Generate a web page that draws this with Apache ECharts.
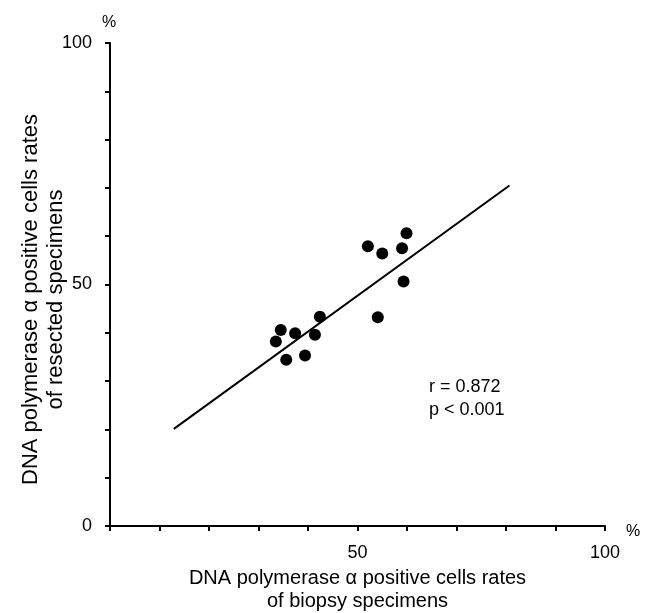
<!DOCTYPE html>
<html>
<head>
<meta charset="utf-8">
<script src="https://cdn.jsdelivr.net/npm/echarts@6/dist/echarts.min.js"></script>
<style>
html,body{margin:0;padding:0;background:#fff;}
#chart{width:652px;height:613px;}
</style>
</head>
<body>
<div id="chart"></div>
<script>
// Data
const biopsyRates   = [59.9, 52.1, 55.0, 59.0, 59.3, 54.1, 42.4, 34.5, 33.5, 37.4, 41.4, 35.6, 39.4];
const resectedRates = [60.6, 57.9, 56.4, 57.5, 50.6, 43.2, 43.3, 40.6, 38.2, 39.9, 39.6, 34.4, 35.3];
const regressionX = [12.9, 80.7];
const regressionY = [20.1, 70.5];
const xTickLabels = [50, 100];
const yTickLabels = [0, 50, 100];
const xAxisTitle = 'DNA polymerase \u03b1 positive cells rates\nof biopsy specimens';
const yAxisTitle = 'DNA polymerase \u03b1 positive cells rates\nof resected specimens';
const statsText = ['r = 0.872', 'p < 0.001'];

const FONT = 'Liberation Sans, Arial, sans-serif';
const INK = '#000';

const chart = echarts.init(document.getElementById('chart'), null, {renderer: 'canvas'});

const points = biopsyRates.map((x, i) => [x, resectedRates[i]]);
const line = regressionX.map((x, i) => [x, regressionY[i]]);

chart.setOption({
  animation: false,
  backgroundColor: '#fff',
  grid: {left: 110, right: 47, top: 43, bottom: 87, containLabel: false, outerBoundsMode: 'none'},
  xAxis: {
    type: 'value', min: 0, max: 100, interval: 10,
    splitLine: {show: false},
    axisLine: {lineStyle: {color: INK, width: 2}},
    axisTick: {length: 5, lineStyle: {color: INK, width: 2}},
    axisLabel: {
      color: INK, fontFamily: FONT, fontSize: 18, margin: 18,
      formatter: v => xTickLabels.includes(v) ? String(v) : ''
    },
    name: xAxisTitle, nameLocation: 'middle', nameGap: 41, nameMoveOverlap: false,
    nameTextStyle: {color: INK, fontFamily: FONT, fontSize: 20, lineHeight: 23}
  },
  yAxis: {
    type: 'value', min: 0, max: 100, interval: 10,
    splitLine: {show: false},
    axisLine: {lineStyle: {color: INK, width: 2}},
    axisTick: {length: 5, lineStyle: {color: INK, width: 2}},
    axisLabel: {
      color: INK, fontFamily: FONT, fontSize: 18, margin: 18,
      formatter: v => yTickLabels.includes(v) ? String(v) : ''
    },
    name: yAxisTitle, nameLocation: 'middle', nameGap: 42, nameRotate: 90, nameMoveOverlap: false,
    nameTextStyle: {color: INK, fontFamily: FONT, fontSize: 22, lineHeight: 25, padding: [0, 30, 0, 0]}
  },
  graphic: [
    {type: 'text', left: 102, top: 15, style: {text: '%', fill: INK, font: '16px ' + FONT}},
    {type: 'text', left: 626, top: 524, style: {text: '%', fill: INK, font: '16px ' + FONT}},
    {type: 'text', left: 429, top: 376, style: {text: statsText.join('\n'), fill: INK, font: '18px ' + FONT, lineHeight: 23}}
  ],
  series: [
    {
      type: 'line', data: line, symbol: 'none',
      lineStyle: {color: INK, width: 2}, silent: true
    },
    {
      type: 'scatter', data: points, symbol: 'circle', symbolSize: 12,
      itemStyle: {color: INK, opacity: 1}
    }
  ]
});
</script>
</body>
</html>
